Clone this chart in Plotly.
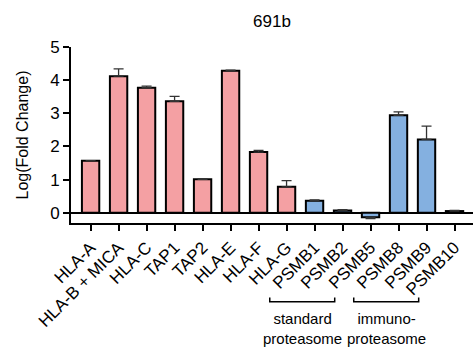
import plotly.graph_objects as go

categories = ["HLA-A", "HLA-B + MICA", "HLA-C", "TAP1", "TAP2", "HLA-E", "HLA-F",
              "HLA-G", "PSMB1", "PSMB2", "PSMB5", "PSMB8", "PSMB9", "PSMB10"]
values = [1.57, 4.12, 3.77, 3.36, 1.01, 4.28, 1.83, 0.78, 0.36, 0.07, -0.14, 2.94, 2.21, 0.05]
errors = [0.0, 0.22, 0.05, 0.15, 0.01, 0.02, 0.05, 0.19, 0.03, 0.02, 0.04, 0.10, 0.40, 0.02]
groups = ["mhc"] * 8 + ["proteasome"] * 6
standard_group = ["PSMB1", "PSMB2", "PSMB5"]
immuno_group = ["PSMB8", "PSMB9", "PSMB10"]
title_text = "691b"
y_title = "Log(Fold Change)"
y_ticks = [0, 1, 2, 3, 4, 5]

PINK = "#F4A0A3"
BLUE = "#84B0E0"
FONT = "Liberation Sans, Arial, sans-serif"

colors = [PINK if g == "mhc" else BLUE for g in groups]
err_plus = [e if v >= 0 else 0 for v, e in zip(values, errors)]
err_minus = [e if v < 0 else 0 for v, e in zip(values, errors)]

fig = go.Figure()
fig.add_trace(go.Bar(
    x=categories, y=values, width=0.62,
    marker=dict(color=colors, line=dict(color="black", width=2)),
    error_y=dict(type="data", symmetric=False, array=err_plus, arrayminus=err_minus,
                 color="#333333", thickness=1.3, width=5),
    showlegend=False,
))

fig.update_layout(
    width=473, height=347,
    margin=dict(l=71, r=0, t=47, b=124, autoexpand=False),
    plot_bgcolor="white", paper_bgcolor="white",
    font=dict(family=FONT, size=16, color="black"),
    title=dict(text=title_text, x=0.5, xanchor="center", xref="paper",
               y=1 - 21 / 347, yanchor="middle", font=dict(size=17)),
)
fig.update_xaxes(
    type="category", range=[-0.7, 13.66], automargin=False,
    showline=True, linecolor="black", linewidth=2,
    ticks="outside", ticklen=6, tickwidth=2, tickcolor="black",
    tickangle=-45, showgrid=False, tickfont=dict(size=17),
)
fig.update_yaxes(
    range=[-0.31, 5.0], tickvals=y_ticks, automargin=False,
    showline=True, linecolor="black", linewidth=2,
    ticks="outside", ticklen=6, tickwidth=2, tickcolor="black",
    showgrid=False, zeroline=True, zerolinecolor="black", zerolinewidth=2,
    title=dict(text=y_title, font=dict(size=16), standoff=18),
    tickfont=dict(size=17),
)

# group brackets beneath the labels
BR_START_OFF = -1.6
BR_END_OFF = -1.28
BR_LINE_Y = -0.447
BR_TICK_Y = -0.424
TEXT_Y = -0.60
for grp, label in [(standard_group, "standard<br>proteasome"),
                   (immuno_group, "immuno-<br>proteasome")]:
    i0 = categories.index(grp[0]) + BR_START_OFF
    i1 = categories.index(grp[-1]) + BR_END_OFF
    fig.add_shape(type="path", xref="x", yref="paper",
                  path=f"M {i0} {BR_TICK_Y} L {i0} {BR_LINE_Y} L {i1} {BR_LINE_Y} L {i1} {BR_TICK_Y}",
                  line=dict(color="black", width=1.5))
    fig.add_annotation(x=(i0 + i1) / 2, y=TEXT_Y, xref="x", yref="paper",
                       text=label, showarrow=False, xanchor="center", yanchor="middle",
                       font=dict(size=15))

fig.write_html("out.html", config={"displayModeBar": False},
               post_script="document.body.style.margin='0';document.body.style.padding='0';")
